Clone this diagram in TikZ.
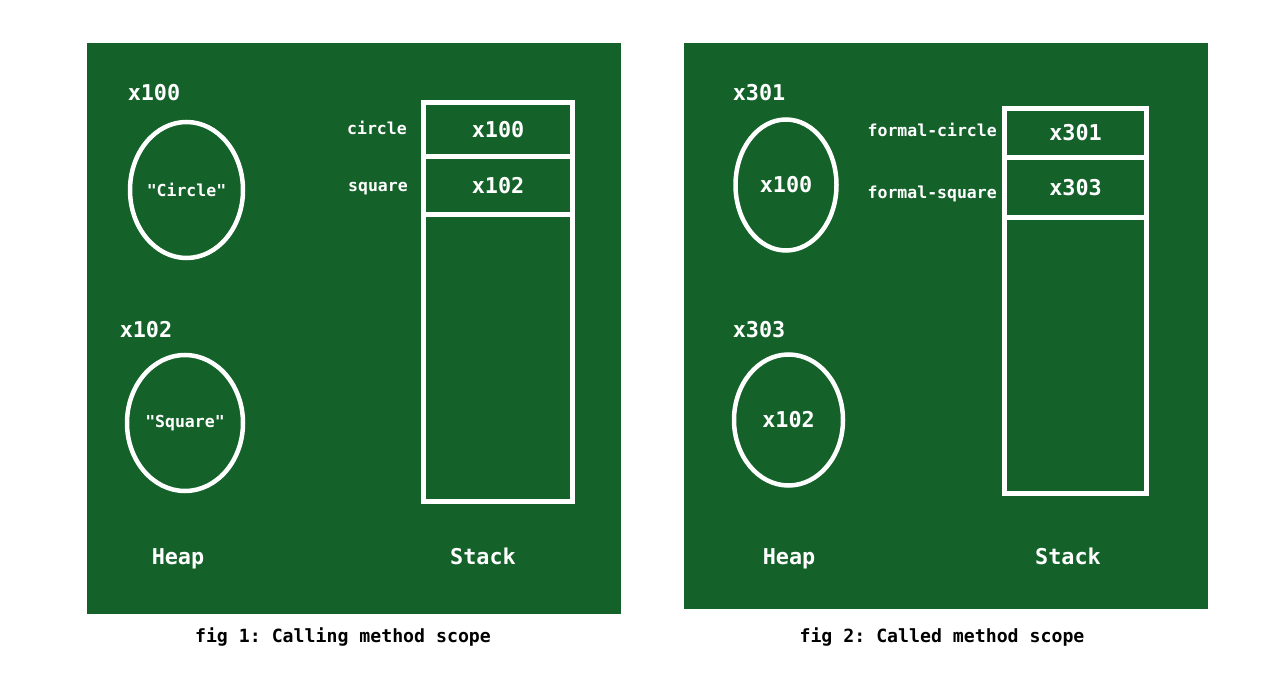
\documentclass[tikz,border=0pt]{standalone}
\usepackage{fontspec}
\setmonofont{DejaVu Sans Mono}
\usetikzlibrary{shapes.geometric}
\definecolor{bg}{RGB}{20,97,42}
\tikzset{
  panel/.style={fill=bg, draw=none, inner sep=0pt, anchor=north west},
  bigtxt/.style={text=white, font=\ttfamily\bfseries\fontsize{21.8}{24}\selectfont, inner sep=0pt},
  smalltxt/.style={text=white, font=\ttfamily\bfseries\fontsize{16.5}{19}\selectfont, inner sep=0pt},
  captxt/.style={text=black, font=\ttfamily\bfseries\fontsize{18.2}{20}\selectfont, inner sep=0pt},
  oval/.style={ellipse, draw=white, line width=4.5pt, inner sep=0pt},
  cell/.style={rectangle, draw=white, line width=5pt, inner sep=0pt},
}
\begin{document}
\begin{tikzpicture}[x=1pt,y=-1pt]
\useasboundingbox (0,0) rectangle (1270,676);
% panels
\node[panel, minimum width=534pt, minimum height=571pt] (p1) at (87,43) {};
\node[panel, minimum width=524pt, minimum height=566pt] (p2) at (684,43) {};
% ---- fig 1 ----
\node[bigtxt] (a1) at (154,93) {x100};
\node[oval, minimum width=113pt, minimum height=136pt, smalltxt] (h1) at (186.5,190) {"Circle"};
\node[bigtxt] (a2) at (146,330) {x102};
\node[oval, minimum width=116pt, minimum height=136pt, smalltxt] (h2) at (185,423) {"Square"};
\node[cell, minimum width=149pt, minimum height=54pt, bigtxt] (s11) at (498,129.5) {x100};
\node[cell, minimum width=149pt, minimum height=58pt, bigtxt] (s12) at (498,185.5) {x102};
\node[cell, minimum width=149pt, minimum height=287pt] (s13) at (498,358) {};
\node[smalltxt, anchor=east] (l11) at (407,128) {circle};
\node[smalltxt, anchor=east] (l12) at (408,189) {square};
\node[bigtxt] (hp1) at (178,558.5) {Heap};
\node[bigtxt] (st1) at (483,556.5) {Stack};
\node[captxt] (c1) at (343,636.5) {fig 1: Calling method scope};
% ---- fig 2 ----
\node[bigtxt] (b1) at (759,93) {x301};
\node[oval, minimum width=101pt, minimum height=131pt, bigtxt] (g1) at (786,185) {x100};
\node[bigtxt] (b2) at (759,330) {x303};
\node[oval, minimum width=109pt, minimum height=131pt, bigtxt] (g2) at (788.5,420) {x102};
\node[cell, minimum width=142pt, minimum height=49pt, bigtxt] (s21) at (1075.5,133) {x301};
\node[cell, minimum width=142pt, minimum height=60pt, bigtxt] (s22) at (1075.5,187.5) {x303};
\node[cell, minimum width=142pt, minimum height=276pt] (s23) at (1075.5,355.5) {};
\node[smalltxt, anchor=east] (l21) at (997,130) {formal-circle};
\node[smalltxt, anchor=east] (l22) at (997,193.5) {formal-square};
\node[bigtxt] (hp2) at (789,558.5) {Heap};
\node[bigtxt] (st2) at (1068,556.5) {Stack};
\node[captxt] (c2) at (942,636.5) {fig 2: Called method scope};
\end{tikzpicture}
\end{document}
